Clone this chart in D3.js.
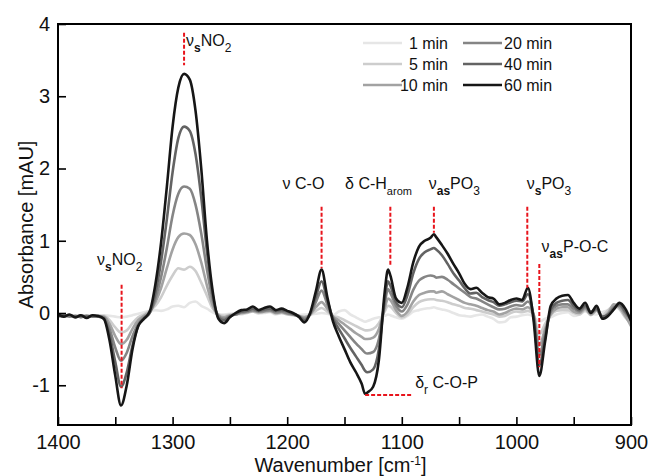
<!DOCTYPE html>
<html>
<head>
<meta charset="utf-8">
<script src="https://cdn.jsdelivr.net/npm/d3@7"></script>
<style>
  html, body { margin: 0; padding: 0; background: #fff; }
  svg { display: block; font-family: "Liberation Sans", Arial, sans-serif; }
</style>
</head>
<body>
<svg id="chart" width="651" height="476"></svg>
<script>
// ---------------- DATA ----------------
const wavenumbers = [
  1400,1395,1390,1385,1380,1375,1370,1365,1360,1355,
  1350,1345,1340,1335,1330,1325,1320,1315,1310,1305,
  1300,1295,1290,1285,1280,1275,1270,1265,1260,1255,
  1250,1245,1240,1235,1230,1225,1220,1215,1210,1205,
  1200,1195,1190,1185,1180,1175,1170,1165,1160,1155,
  1150,1145,1140,1135,1132,1130,1125,1120,1115,1112,
  1110,1105,1100,1095,1090,1085,1080,1075,1072,1070,
  1065,1060,1055,1050,1045,1040,1035,1030,1025,1020,
  1015,1010,1005,1000,995,990,985,980,975,970,
  965,960,955,950,945,940,935,930,925,920,
  915,910,905,900
];

const seriesNames = ["1 min", "5 min", "10 min", "20 min", "40 min", "60 min"];

const abs1min = [
  -0.03,-0.04,-0.03,-0.05,-0.03,-0.04,-0.03,-0.04,-0.03,-0.04,
  -0.05,-0.06,-0.05,-0.03,-0.01,0.01,0.03,0.04,0.03,0.05,
  0.09,0.10,0.08,0.14,0.16,0.10,0.06,0.01,-0.02,-0.02,
  -0.01,0.00,-0.02,0.01,0.02,-0.01,0.00,0.01,-0.02,0.00,
  -0.01,-0.02,-0.03,-0.02,-0.02,-0.01,0.00,-0.01,-0.03,0.02,
  0.04,-0.02,-0.06,-0.10,-0.12,-0.11,-0.08,-0.06,-0.04,-0.02,
  -0.03,-0.06,-0.08,-0.04,0.02,0.04,0.06,0.07,0.08,0.07,
  0.05,0.03,0.00,-0.03,-0.04,-0.05,-0.03,-0.02,-0.05,-0.08,
  -0.13,-0.12,-0.06,-0.05,-0.03,-0.02,-0.05,-0.12,-0.08,-0.06,
  -0.02,0.00,0.01,-0.04,-0.02,0.02,-0.01,-0.02,0.01,0.04,
  0.06,0.08,0.00,-0.08
];
const abs5min = [
  -0.04,-0.03,-0.05,-0.04,-0.04,-0.03,-0.05,-0.04,-0.04,-0.10,
  -0.20,-0.27,-0.24,-0.14,-0.06,-0.02,0.03,0.10,0.22,0.38,
  0.52,0.62,0.60,0.64,0.58,0.42,0.24,0.06,-0.02,-0.04,
  -0.02,-0.02,-0.01,0.00,0.02,0.00,0.01,0.02,-0.01,0.00,
  -0.02,-0.03,-0.04,-0.05,-0.03,0.03,0.07,0.02,-0.04,-0.06,
  -0.10,-0.14,-0.18,-0.22,-0.24,-0.24,-0.22,-0.14,0.02,0.10,
  0.09,0.00,-0.06,-0.02,0.08,0.15,0.18,0.19,0.19,0.18,
  0.17,0.15,0.12,0.10,0.07,0.06,0.04,0.02,0.00,-0.02,
  -0.05,-0.04,0.00,0.02,0.01,0.03,-0.02,-0.30,-0.15,-0.03,
  0.03,0.04,0.04,0.00,-0.02,0.04,-0.03,0.03,-0.03,0.04,
  0.10,0.05,-0.06,-0.14
];
const abs10min = [
  -0.03,-0.05,-0.04,-0.05,-0.03,-0.05,-0.04,-0.05,-0.05,-0.15,
  -0.32,-0.43,-0.37,-0.22,-0.10,-0.04,0.02,0.15,0.35,0.62,
  0.88,1.05,1.10,1.08,0.95,0.70,0.38,0.10,-0.03,-0.06,
  -0.03,-0.02,0.00,0.01,0.03,0.01,0.02,0.03,0.00,0.01,
  -0.01,-0.02,-0.04,-0.06,-0.02,0.08,0.15,0.06,-0.05,-0.10,
  -0.16,-0.22,-0.28,-0.33,-0.36,-0.36,-0.34,-0.22,0.06,0.20,
  0.18,0.04,-0.04,0.02,0.16,0.25,0.28,0.30,0.30,0.28,
  0.30,0.26,0.22,0.18,0.14,0.12,0.10,0.07,0.04,0.02,
  -0.02,0.00,0.04,0.06,0.05,0.08,-0.02,-0.45,-0.22,-0.02,
  0.06,0.08,0.08,0.02,0.00,0.06,-0.02,0.04,-0.05,0.00,
  0.12,0.08,-0.04,-0.18
];
const abs20min = [
  -0.05,-0.03,-0.05,-0.04,-0.06,-0.04,-0.05,-0.04,-0.06,-0.22,
  -0.48,-0.66,-0.55,-0.32,-0.15,-0.06,0.00,0.20,0.50,0.90,
  1.35,1.65,1.75,1.72,1.50,1.10,0.60,0.18,-0.04,-0.08,
  -0.04,-0.02,0.01,0.02,0.04,0.02,0.03,0.04,0.01,0.02,
  0.00,-0.02,-0.05,-0.08,-0.02,0.15,0.31,0.12,-0.06,-0.15,
  -0.24,-0.33,-0.42,-0.50,-0.55,-0.56,-0.54,-0.36,0.12,0.33,
  0.28,0.10,0.02,0.12,0.32,0.45,0.50,0.52,0.51,0.49,
  0.50,0.46,0.40,0.34,0.28,0.22,0.20,0.16,0.12,0.08,
  0.05,0.06,0.09,0.11,0.10,0.16,-0.03,-0.58,-0.28,0.02,
  0.10,0.12,0.12,0.06,0.02,0.08,0.00,0.05,-0.06,-0.02,
  0.08,0.10,0.00,-0.10
];
const abs40min = [
  -0.04,-0.04,-0.03,-0.05,-0.04,-0.05,-0.04,-0.05,-0.08,-0.30,
  -0.68,-1.02,-0.82,-0.45,-0.18,-0.08,0.00,0.28,0.72,1.30,
  1.95,2.42,2.58,2.52,2.20,1.60,0.85,0.25,-0.06,-0.10,
  -0.05,-0.01,0.02,0.03,0.06,0.03,0.05,0.06,0.03,0.04,
  0.02,-0.01,-0.04,-0.10,-0.01,0.22,0.44,0.18,-0.08,-0.22,
  -0.35,-0.48,-0.60,-0.72,-0.80,-0.82,-0.78,-0.50,0.18,0.44,
  0.38,0.15,0.08,0.25,0.55,0.75,0.84,0.88,0.90,0.88,
  0.80,0.68,0.55,0.45,0.34,0.27,0.28,0.22,0.18,0.15,
  0.10,0.12,0.15,0.17,0.16,0.26,-0.05,-0.72,-0.35,0.05,
  0.14,0.17,0.18,0.10,0.04,0.10,0.02,0.06,-0.05,-0.02,
  0.06,0.12,0.02,-0.08
];
const abs60min = [
  -0.02,-0.05,-0.02,-0.06,-0.03,-0.07,-0.03,-0.04,-0.08,-0.38,
  -0.87,-1.28,-1.00,-0.50,-0.18,-0.08,0.02,0.40,0.98,1.75,
  2.58,3.12,3.31,3.23,2.80,2.00,1.00,0.30,-0.08,-0.14,
  -0.06,0.00,0.04,0.05,0.09,0.04,0.07,0.09,0.04,0.06,
  0.03,0.00,-0.05,-0.13,0.00,0.30,0.60,0.22,-0.12,-0.32,
  -0.50,-0.68,-0.82,-0.98,-1.12,-1.10,-1.02,-0.65,0.28,0.60,
  0.52,0.20,0.14,0.36,0.70,0.92,1.00,1.04,1.09,1.05,
  0.94,0.82,0.68,0.55,0.40,0.33,0.35,0.28,0.22,0.20,
  0.12,0.14,0.18,0.20,0.18,0.35,-0.10,-0.87,-0.40,0.10,
  0.20,0.24,0.25,0.14,0.06,0.14,0.00,0.10,-0.08,-0.04,
  0.05,0.14,0.06,-0.11
];

const xTickValues = [1400,1350,1300,1250,1200,1150,1100,1050,1000,950,900];
const xTickLabels = ["1400","","1300","","1200","","1100","","1000","","900"];
const yTickValues = [-1,0,1,2,3,4];
const yTickLabels = ["-1","0","1","2","3","4"];

// ---------------- STYLE ----------------
const seriesColors = ["#e6e6e6", "#cdcdcd", "#a2a2a2", "#858585", "#636363", "#161616"];
const allSeries = [abs1min, abs5min, abs10min, abs20min, abs40min, abs60min];

const W = 651, H = 476;
const m = { left: 58, right: 631, top: 24, bottom: 425 };

const svg = d3.select("#chart");
const x = d3.scaleLinear().domain([1400, 900]).range([m.left, m.right]);
const y = d3.scaleLinear().domain([-1.55, 4]).range([m.bottom, m.top]);

// Curves
const line = d3.line()
  .x((d, i) => x(wavenumbers[i]))
  .y(d => y(d))
  .curve(d3.curveMonotoneX);

svg.append("clipPath").attr("id", "clip").append("rect")
  .attr("x", m.left).attr("y", m.top)
  .attr("width", m.right - m.left).attr("height", m.bottom - m.top);
const gLines = svg.append("g").attr("clip-path", "url(#clip)");

allSeries.forEach((vals, k) => {
  gLines.append("path")
    .datum(vals)
    .attr("d", line)
    .attr("fill", "none")
    .attr("stroke", seriesColors[k])
    .attr("stroke-width", 2.6)
    .attr("stroke-linejoin", "round")
    .attr("stroke-linecap", "round");
});

// Annotations (red dashed guide lines) in data coordinates
const red = "#e8141c";
const guides = [
  { x1: 1290, y1: 3.88, x2: 1290, y2: 3.43 },
  { x1: 1344.5, y1: 0.39, x2: 1344.5, y2: -1.04 },
  { x1: 1170, y1: 1.47, x2: 1170, y2: 0.62 },
  { x1: 1110, y1: 1.47, x2: 1110, y2: 0.64 },
  { x1: 1072, y1: 1.47, x2: 1072, y2: 1.11 },
  { x1: 990.5, y1: 1.47, x2: 990.5, y2: 0.35 },
  { x1: 980, y1: 0.68, x2: 980, y2: -0.75 },
  { x1: 1132, y1: -1.135, x2: 1091.5, y2: -1.135 }
];
svg.append("g").selectAll("line").data(guides).join("line")
  .attr("x1", d => x(d.x1)).attr("y1", d => y(d.y1))
  .attr("x2", d => x(d.x2)).attr("y2", d => y(d.y2))
  .attr("stroke", red).attr("stroke-width", 2)
  .attr("stroke-dasharray", "4,2");

// Labels with subscripts
const labels = [
  { wn: 1288.3, v: 3.70, parts: [["ν",0],["s",1,true],["NO",0],["2",1]] },
  { wn: 1366,   v: 0.66, parts: [["ν",0],["s",1,true],["NO",0],["2",1]] },
  { wn: 1204,   v: 1.72, parts: [["ν C-O",0]] },
  { wn: 1149.5, v: 1.72, parts: [["δ C-H",0],["arom",2]] },
  { wn: 1076.5, v: 1.72, parts: [["ν",0],["as",1,true],["PO",0],["3",1]] },
  { wn: 991,    v: 1.72, parts: [["ν",0],["s",1,true],["PO",0],["3",1]] },
  { wn: 978,    v: 0.84, parts: [["ν",0],["as",1,true],["P-O-C",0]] },
  { wn: 1088.3, v: -1.04, parts: [["δ",0],["r",1],[" C-O-P",0]] }
];
const gLab = svg.append("g").attr("fill", "#111");
labels.forEach(l => {
  const t = gLab.append("text")
    .attr("x", x(l.wn)).attr("y", y(l.v))
    .attr("font-size", 16);
  let shift = 0;
  l.parts.forEach(([txt, sub, bold]) => {
    const target = sub === 0 ? 0 : 6;
    const ts = t.append("tspan").text(txt)
      .attr("dy", target - shift);
    if (sub === 1) ts.attr("font-size", 12);
    if (sub === 2) ts.attr("font-size", 11);
    if (bold) ts.attr("font-weight", "bold");
    shift = target;
  });
});

// Frame
svg.append("rect")
  .attr("x", m.left).attr("y", m.top)
  .attr("width", m.right - m.left).attr("height", m.bottom - m.top)
  .attr("fill", "none").attr("stroke", "#000").attr("stroke-width", 2);

// Axes (ticks inward)
const xAxis = d3.axisBottom(x).tickValues(xTickValues)
  .tickSizeInner(-8).tickSizeOuter(0).tickPadding(10)
  .tickFormat((d, i) => xTickLabels[i]);
const gx = svg.append("g").attr("transform", `translate(0,${m.bottom})`).call(xAxis);
gx.select(".domain").remove();
gx.selectAll(".tick line").attr("stroke", "#000").attr("stroke-width", 1.6);
gx.selectAll(".tick text").attr("font-size", 20).attr("fill", "#111")
  .attr("font-family", "Liberation Sans, Arial, sans-serif");

const yAxis = d3.axisLeft(y).tickValues(yTickValues)
  .tickSizeInner(-8).tickSizeOuter(0).tickPadding(8)
  .tickFormat((d, i) => yTickLabels[i]);
const gy = svg.append("g").attr("transform", `translate(${m.left},0)`).call(yAxis);
gy.select(".domain").remove();
gy.selectAll(".tick line").attr("stroke", "#000").attr("stroke-width", 1.6);
gy.selectAll(".tick text").attr("font-size", 20).attr("fill", "#111")
  .attr("font-family", "Liberation Sans, Arial, sans-serif");

// Axis titles
const xTitle = svg.append("text")
  .attr("x", (m.left + m.right) / 2 - 4).attr("y", 472)
  .attr("text-anchor", "middle").attr("font-size", 20).attr("fill", "#111");
xTitle.append("tspan").text("Wavenumber [cm");
xTitle.append("tspan").text("-1").attr("font-size", 12).attr("baseline-shift", "super");
xTitle.append("tspan").text("]");

svg.append("text")
  .attr("transform", `translate(33,${(m.top + m.bottom) / 2}) rotate(-90)`)
  .attr("text-anchor", "middle").attr("font-size", 20).attr("fill", "#111")
  .text("Absorbance [mAU]");

// Legend
const legendCols = [
  { lx1: 363, lx2: 402, tx: 448, anchor: "end" },
  { lx1: 463, lx2: 502, tx: 504, anchor: "start" }
];
const legendRowsY = [43, 64, 85];
const gLeg = svg.append("g");
seriesNames.forEach((name, k) => {
  const col = legendCols[Math.floor(k / 3)];
  const ry = legendRowsY[k % 3];
  gLeg.append("line")
    .attr("x1", col.lx1).attr("x2", col.lx2).attr("y1", ry).attr("y2", ry)
    .attr("stroke", seriesColors[k]).attr("stroke-width", 2.6);
  gLeg.append("text")
    .attr("x", col.tx).attr("y", ry + 6)
    .attr("text-anchor", col.anchor)
    .attr("font-size", 16).attr("fill", "#111")
    .text(name);
});
</script>
</body>
</html>
